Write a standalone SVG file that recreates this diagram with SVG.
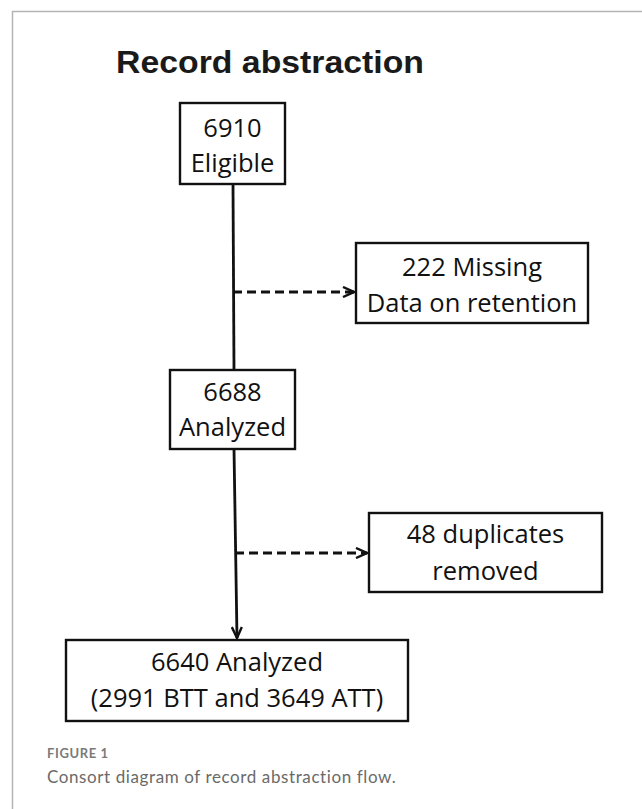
<svg xmlns="http://www.w3.org/2000/svg" width="642" height="809" viewBox="0 0 642 809">
  <style>
    .frame { fill: none; stroke: #b4b4b4; stroke-width: 1.5; }
    .title { font-family: "Liberation Sans", Arial, sans-serif; font-weight: bold; font-size: 32px; fill: #1a1a1a; }
    .box { fill: #ffffff; stroke: #111111; stroke-width: 2.4; }
    .label { font-family: "Open Sans", "Noto Sans", sans-serif; font-size: 25.5px; fill: #111111; text-anchor: middle; }
    .solid { fill: none; stroke: #111111; stroke-width: 2.8; }
    .dashed { fill: none; stroke: #111111; stroke-width: 2.8; stroke-dasharray: 9 5; }
    .fig { font-family: Lato, "Open Sans", sans-serif; font-weight: bold; font-size: 13px; letter-spacing: 0.6px; fill: #7a7a7a; }
    .caption { font-family: Lato, "Open Sans", sans-serif; font-size: 17px; letter-spacing: 0.6px; fill: #6a6a6a; }
  </style>
  <defs>
    <marker id="chevron" markerUnits="userSpaceOnUse" markerWidth="14" markerHeight="12" refX="12" refY="6" orient="auto">
      <path d="M1,1 L12,6 L1,11" fill="none" stroke="#111111" stroke-width="2.4"/>
    </marker>
  </defs>

  <rect width="642" height="809" fill="#ffffff"/>
  <path class="frame" d="M642,11.5 H12.5 V809"/>

  <text class="title" x="116" y="73" textLength="308" lengthAdjust="spacingAndGlyphs">Record abstraction</text>

  <g id="connectors">
    <line class="solid" x1="233" y1="184" x2="234" y2="370"/>
    <line class="dashed" x1="233" y1="292" x2="354" y2="292" marker-end="url(#chevron)"/>
    <line class="solid" x1="234" y1="449" x2="237" y2="638" marker-end="url(#chevron)"/>
    <line class="dashed" x1="235" y1="553" x2="367" y2="553" marker-end="url(#chevron)"/>
  </g>

  <g id="eligible">
    <rect class="box" x="180" y="103" width="105" height="81"/>
    <text class="label" x="232.5" y="137">6910</text>
    <text class="label" x="232.5" y="172">Eligible</text>
  </g>

  <g id="missing">
    <rect class="box" x="356" y="243" width="232" height="80"/>
    <text class="label" x="472" y="276">222 Missing</text>
    <text class="label" x="472" y="312">Data on retention</text>
  </g>

  <g id="analyzed-6688">
    <rect class="box" x="170" y="370" width="125" height="79"/>
    <text class="label" x="232.5" y="401">6688</text>
    <text class="label" x="232.5" y="436">Analyzed</text>
  </g>

  <g id="duplicates">
    <rect class="box" x="369" y="513" width="233" height="79"/>
    <text class="label" x="485.5" y="543">48 duplicates</text>
    <text class="label" x="485.5" y="580">removed</text>
  </g>

  <g id="analyzed-6640">
    <rect class="box" x="66" y="640" width="342" height="81"/>
    <text class="label" x="237" y="671">6640 Analyzed</text>
    <text class="label" x="237" y="707">(2991 BTT and 3649 ATT)</text>
  </g>

  <text class="fig" x="47" y="758">FIGURE 1</text>
  <text class="caption" x="47" y="783">Consort diagram of record abstraction flow.</text>
</svg>
